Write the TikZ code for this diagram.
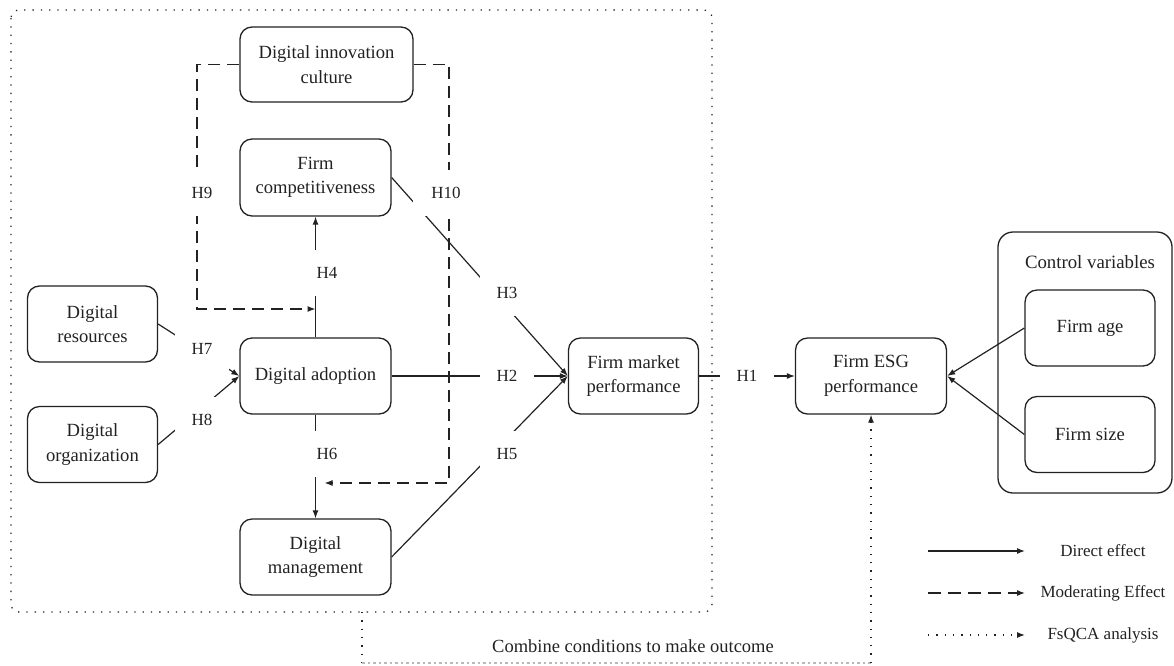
\documentclass[tikz,border=0pt]{standalone}
\usepackage{fontspec}
\setmainfont{Liberation Serif}
\usetikzlibrary{arrows.meta,calc}
\definecolor{ink}{HTML}{222222}
\tikzset{
  box/.style={draw=ink, line width=1.3pt, rounded corners=12pt, align=center,
    inner sep=2pt, text=ink, font=\fontsize{18.6}{24.5}\selectfont},
  hlab/.style={fill=white, inner sep=0pt, minimum width=54pt, minimum height=46pt,
    text=ink, font=\fontsize{17}{20}\selectfont},
  txt/.style={text=ink, inner sep=0pt, font=\fontsize{17}{20}\selectfont},
  eff/.style={draw=ink, line width=1.2pt, -{Latex[length=8pt,width=6pt]}},
  mod/.style={eff, dash pattern=on 12pt off 7pt},
  fsq/.style={eff, dash pattern=on 1.3pt off 7pt},
  dotframe/.style={draw=ink, line width=1.3pt, dash pattern=on 1.3pt off 7pt},
}
\begin{document}
\begin{tikzpicture}[x=1pt,y=-1pt]
\useasboundingbox (0,0) rectangle (1174,665);

% dotted frame around the condition model
\draw[dotframe, rounded corners=8pt] (11,10) rectangle (712,612);

% variables
\node[box, minimum width=173pt, minimum height=75pt] (cult) at (326.5,64.5) {Digital innovation\\culture};
\node[box, minimum width=151pt, minimum height=77pt] (comp) at (315.5,177.5) {Firm\\competitiveness};
\node[box, minimum width=130pt, minimum height=76pt] (res)  at (92.5,324) {Digital\\resources};
\node[box, minimum width=130pt, minimum height=76pt] (org)  at (92.5,444.5) {Digital\\organization};
\node[box, minimum width=151pt, minimum height=76pt] (adopt) at (315.5,376) {Digital adoption};
\node[box, minimum width=151pt, minimum height=76pt] (mgmt) at (315.5,557) {Digital\\management};
\node[box, minimum width=130pt, minimum height=76pt] (mkt)  at (633.5,376) {Firm market\\performance};
\node[box, minimum width=151pt, minimum height=76pt] (esg)  at (871,376) {Firm ESG\\performance};

% control variables
\draw[draw=ink, line width=1.3pt, rounded corners=15pt] (998,232) rectangle (1172,493);
\node[txt, font=\fontsize{18.8}{22}\selectfont] (ctrl) at (1090,262) {Control variables};
\node[box, minimum width=130pt, minimum height=76pt] (age)  at (1090,328) {Firm age};
\node[box, minimum width=130pt, minimum height=76pt] (size) at (1090,434.5) {Firm size};

% direct effects
\draw[eff] (adopt) -- (comp);
\draw[eff] (adopt) -- (mgmt);
\draw[eff] (adopt.east) -- (mkt.west);
\draw[eff] (comp.east) -- (mkt.west);
\draw[eff] (mgmt.east) -- (mkt.west);
\draw[eff] (res.east) -- (adopt.west);
\draw[eff] (org.east) -- (adopt.west);
\draw[eff] (mkt.east) -- (esg.west);
\draw[eff] (age.west) -- (esg.east);
\draw[eff] (size.west) -- (esg.east);

% moderating effects
\coordinate (b9) at (197,309);
\coordinate (m9) at (adopt.north |- b9);
\coordinate (b10) at (449,483);
\coordinate (m10) at (adopt.south |- b10);
\draw[mod] (cult.west) -| (b9) -- (m9);
\draw[mod, shorten >=9pt] (cult.east) -| (b10) -- (m10);

% fsQCA link
\coordinate (fa) at (362,612);
\coordinate (fb) at (362,663);
\coordinate (fc) at (esg.south |- fb);
\draw[dotframe] (fa) -- (fb);
\draw[draw=gray!55, line width=1.1pt, dash pattern=on 2.5pt off 3pt] (fb) -- (fc);
\draw[fsq] (fc) -- (esg.south);
\node[txt, font=\fontsize{18.5}{22}\selectfont] (comb) at (633,646) {Combine conditions to make outcome};

% hypothesis labels
\node[hlab] (h9)  at (202,193) {H9};
\node[hlab, minimum width=66pt] (h10) at (446,193) {H10};
\node[hlab] (h4)  at (327,273) {H4};
\node[hlab] (h3)  at (507,293) {H3};
\node[hlab] (h7)  at (202,349) {H7};
\node[hlab] (h8)  at (202,420) {H8};
\node[hlab] (h2)  at (507,376) {H2};
\node[hlab] (h6)  at (327,454) {H6};
\node[hlab] (h5)  at (507,454) {H5};
\node[hlab] (h1)  at (747,376) {H1};

% legend
\coordinate (l1a) at (928,551); \coordinate (l1b) at (1025,551);
\coordinate (l2a) at (928,593); \coordinate (l2b) at (1025,593);
\coordinate (l3a) at (928,635); \coordinate (l3b) at (1025,635);
\draw[eff] (l1a) -- (l1b);
\draw[mod, dash pattern=on 13pt off 7pt] (l2a) -- (l2b);
\draw[fsq] (l3a) -- (l3b);
\node[txt] (lg1) at (1103,551) {Direct effect};
\node[txt] (lg2) at (1103,593) {Moderating Effect};
\node[txt] (lg3) at (1103,635) {FsQCA analysis};
\end{tikzpicture}
\end{document}
